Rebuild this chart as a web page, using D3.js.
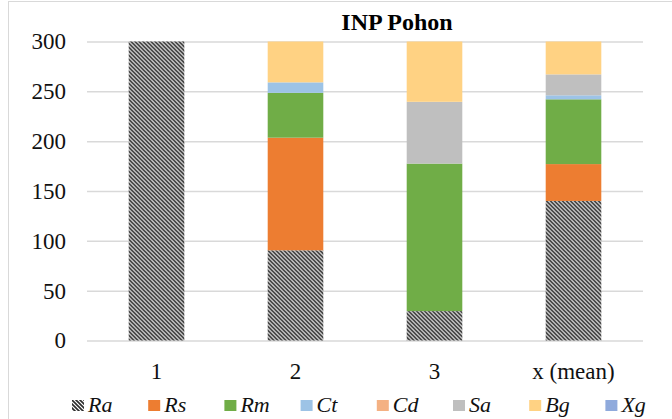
<!DOCTYPE html>
<html>
<head>
<meta charset="utf-8">
<script src="https://cdn.jsdelivr.net/npm/d3@7"></script>
<style>
  body { margin: 0; background: #fff; }
</style>
</head>
<body>
<div id="chart"></div>
<script>
// categories on the x axis
const categories = ["1", "2", "3", "x (mean)"];
// series names (legend order = stack order)
const seriesNames = ["Ra", "Rs", "Rm", "Ct", "Cd", "Sa", "Bg", "Xg"];
// values per series, one per category
const Ra = [300, 90.5, 29.5, 140];
const Rs = [0, 113, 0, 37];
const Rm = [0, 45, 148, 65];
const Ct = [0, 10.5, 0, 4];
const Cd = [0, 0, 0, 0];
const Sa = [0, 0, 62, 21];
const Bg = [0, 41, 60.5, 33];
const Xg = [0, 0, 0, 0];
const yTicks = [0, 50, 100, 150, 200, 250, 300];

const colors = {
    Ra: "url(#hatch)",
    Rs: "#ED7D31",
    Rm: "#70AD47",
    Ct: "#9DC3E6",
    Cd: "#F4B183",
    Sa: "#BFBFBF",
    Bg: "#FFD283",
    Xg: "#8FAADC"
};
const FONT = "'Liberation Serif', 'Times New Roman', serif";

const W = 672, H = 419;
const margin = { top: 41.5, right: 29, bottom: 78.5, left: 87 };
const width = W - margin.left - margin.right,
    height = H - margin.top - margin.bottom;

const svg = d3.select("#chart")
    .append("svg")
    .attr("width", W)
    .attr("height", H)
    .style("display", "block");

// hatch pattern for Ra (dark downward diagonal)
const defs = svg.append("defs");
const pat = defs.append("pattern")
    .attr("id", "hatch")
    .attr("patternUnits", "userSpaceOnUse")
    .attr("width", 4)
    .attr("height", 4);
pat.append("rect").attr("width", 4).attr("height", 4).attr("fill", "#fff");
pat.append("path")
    .attr("d", "M-1,-1 L5,5 M-1,3 L1,5 M3,-1 L5,1")
    .attr("stroke", "#2b2b2b")
    .attr("stroke-width", 1.6);

// outer frame (only top and left visible in the reference)
svg.append("line")
    .attr("x1", 8).attr("x2", W).attr("y1", 1.5).attr("y2", 1.5)
    .attr("stroke", "#d9d9d9").attr("stroke-width", 1);
svg.append("line")
    .attr("x1", 8.5).attr("x2", 8.5).attr("y1", 1.5).attr("y2", H)
    .attr("stroke", "#d9d9d9").attr("stroke-width", 1);

// title
svg.append("text")
    .attr("x", 397)
    .attr("y", 30)
    .attr("text-anchor", "middle")
    .style("font-family", FONT)
    .style("font-size", "24px")
    .style("font-weight", "bold")
    .attr("fill", "#000")
    .text("INP Pohon");

const g = svg.append("g")
    .attr("transform", `translate(${margin.left},${margin.top})`);

/** scales */
const xScale = d3.scaleBand()
    .domain(categories)
    .range([0, width])
    .paddingInner(0.6)
    .paddingOuter(0.3);

const yScale = d3.scaleLinear()
    .domain([0, 300])
    .range([height, 0]);

/** grid + y labels */
const axisY = d3.axisLeft(yScale)
    .tickValues(yTicks)
    .tickSize(-width)
    .tickPadding(21);

const gy = g.append("g")
    .attr("class", "axis_y")
    .call(axisY);
gy.select(".domain").remove();
gy.selectAll("line")
    .attr("stroke", "#d9d9d9")
    .attr("stroke-width", 1.5);
gy.selectAll("text")
    .style("font-family", FONT)
    .style("font-size", "23px")
    .attr("fill", "#111");

/** x labels */
const axisX = d3.axisBottom(xScale)
    .tickSize(0)
    .tickPadding(22);
const gx = g.append("g")
    .attr("class", "axis_x")
    .attr("transform", `translate(0,${height})`)
    .call(axisX);
gx.select(".domain").remove();
gx.selectAll("text")
    .style("font-family", FONT)
    .style("font-size", "23px")
    .attr("fill", "#111");

/** stacked bars */
const table = categories.map((c, i) => {
    const row = { cat: c };
    row.Ra = Ra[i]; row.Rs = Rs[i]; row.Rm = Rm[i]; row.Ct = Ct[i];
    row.Cd = Cd[i]; row.Sa = Sa[i]; row.Bg = Bg[i]; row.Xg = Xg[i];
    return row;
});
const stacked = d3.stack().keys(seriesNames)(table);

g.append("g")
    .attr("class", "content")
    .selectAll("g")
    .data(stacked)
    .enter().append("g")
    .attr("fill", d => colors[d.key])
    .selectAll("rect")
    .data(d => d)
    .enter().append("rect")
    .attr("x", d => xScale(d.data.cat))
    .attr("width", xScale.bandwidth())
    .attr("y", d => yScale(d[1]))
    .attr("height", d => yScale(d[0]) - yScale(d[1]));

/** legend */
const legend = svg.append("g")
    .attr("class", "legend")
    .attr("transform", "translate(72, 400)");
const item = legend.selectAll("g")
    .data(seriesNames)
    .enter().append("g")
    .attr("transform", (d, i) => `translate(${i * 76.2}, 0)`);
item.append("rect")
    .attr("width", 12)
    .attr("height", 11)
    .attr("fill", d => colors[d]);
item.append("text")
    .attr("x", 16)
    .attr("y", 12)
    .style("font-family", FONT)
    .style("font-size", "22px")
    .style("font-style", "italic")
    .attr("fill", "#111")
    .text(d => d);
</script>
</body>
</html>
